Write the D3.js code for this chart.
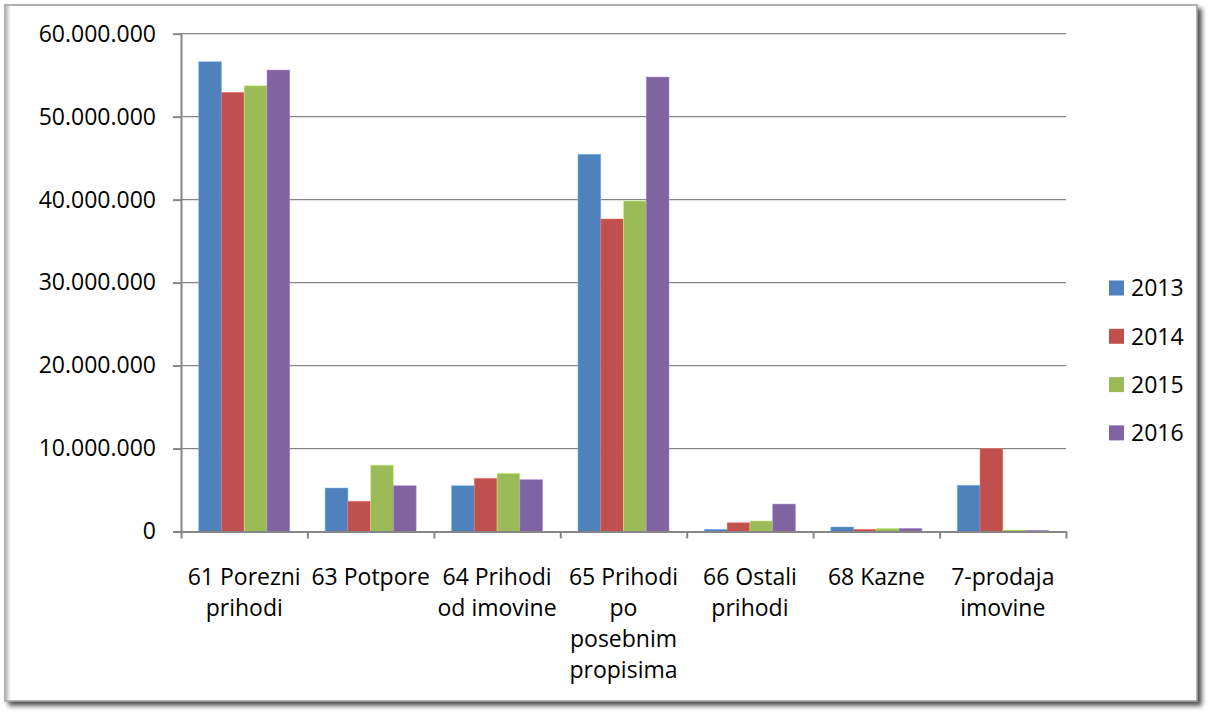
<!DOCTYPE html>
<html>
<head>
<meta charset="utf-8">
<script src="https://cdn.jsdelivr.net/npm/d3@7"></script>
<style>
  body { margin: 0; background: #fff; }
  svg text { font-family: "Open Sans", "Noto Sans", sans-serif; fill: #000; }
</style>
</head>
<body>
<div id="chart"></div>
<script>
const width = 1208;
const height = 713;

// data
const categories = ["61 Porezni prihodi", "63 Potpore", "64 Prihodi od imovine",
    "65 Prihodi po posebnim propisima", "66 Ostali prihodi", "68 Kazne", "7-prodaja imovine"];
const years = ["2013", "2014", "2015", "2016"];
const values2013 = [56620000, 5240000, 5520000, 45460000, 260000, 540000, 5570000];
const values2014 = [52930000, 3640000, 6410000, 37670000, 1060000, 260000, 9980000];
const values2015 = [53730000, 8000000, 7010000, 39840000, 1270000, 380000, 180000];
const values2016 = [55620000, 5520000, 6250000, 54780000, 3310000, 380000, 140000];
const yTicks = [0, 10000000, 20000000, 30000000, 40000000, 50000000, 60000000];
const colors = ["#4F81BD", "#C0504D", "#9BBB59", "#8064A2"];

const series = [values2013, values2014, values2015, values2016];

const plot = { left: 181, right: 1066, top: 33.7, bottom: 531.5 };
const axisColor = "#868686";

const svg = d3.select("#chart")
    .append("svg")
    .attr("width", width)
    .attr("height", height);

// frame with shadow
const defs = svg.append("defs");
const shadow = defs.append("filter").attr("id", "shadow")
    .attr("x", "-2%").attr("y", "-2%").attr("width", "105%").attr("height", "106%");
shadow.append("feGaussianBlur").attr("in", "SourceAlpha").attr("stdDeviation", 2.5);
shadow.append("feOffset").attr("dx", 4).attr("dy", 4).attr("result", "blur");
shadow.append("feComponentTransfer").append("feFuncA").attr("type", "linear").attr("slope", 0.7);
const merge = shadow.append("feMerge");
merge.append("feMergeNode");
merge.append("feMergeNode").attr("in", "SourceGraphic");

const inner = defs.append("linearGradient").attr("id", "innerLeft");
inner.append("stop").attr("offset", "0%").attr("stop-color", "#bdbdbd");
inner.append("stop").attr("offset", "100%").attr("stop-color", "#ffffff");

svg.append("rect")
    .attr("x", 5).attr("y", 5)
    .attr("width", 1192).attr("height", 696)
    .attr("fill", "#fff")
    .attr("stroke", "#9a9a9a")
    .attr("stroke-width", 1.5)
    .attr("filter", "url(#shadow)");

svg.append("rect")
    .attr("x", 6).attr("y", 6)
    .attr("width", 5).attr("height", 694)
    .attr("fill", "url(#innerLeft)");

// scales
const x0 = d3.scaleBand()
    .domain(categories)
    .range([plot.left, plot.right])
    .paddingInner(0)
    .paddingOuter(0);

const x1 = d3.scaleBand()
    .domain(years)
    .range([0, x0.bandwidth()])
    .paddingInner(0)
    .paddingOuter(0.778);

const y = d3.scaleLinear()
    .domain([0, 60000000])
    .range([plot.bottom, plot.top]);

const xEdge = d3.scaleLinear()
    .domain([0, categories.length])
    .range([plot.left, plot.right]);

const hr = d3.formatLocale({ decimal: ",", thousands: ".", grouping: [3], currency: ["", ""] });
const fmt = hr.format(",");

// gridlines
svg.append("g")
    .selectAll("line")
    .data(yTicks.filter(d => d > 0))
    .join("line")
    .attr("x1", plot.left)
    .attr("x2", plot.right)
    .attr("y1", d => y(d))
    .attr("y2", d => y(d))
    .attr("stroke", axisColor)
    .attr("stroke-width", 1.3);

// bars
const groups = svg.append("g")
    .selectAll("g")
    .data(categories)
    .join("g")
    .attr("transform", d => `translate(${x0(d)},0)`);

groups.selectAll("rect")
    .data((c, i) => years.map((yr, j) => ({ year: yr, value: series[j][i], color: colors[j] })))
    .join("rect")
    .attr("x", d => x1(d.year))
    .attr("y", d => y(d.value))
    .attr("width", x1.bandwidth())
    .attr("height", d => y(0) - y(d.value))
    .attr("fill", d => d.color)
    .attr("stroke", d => d3.color(d.color).brighter(0.9))
    .attr("stroke-opacity", 0.6)
    .attr("stroke-width", 0.8);

// y axis
const yAxis = svg.append("g")
    .attr("transform", `translate(${plot.left},0)`)
    .call(d3.axisLeft(y).tickValues(yTicks).tickFormat(fmt).tickSize(8).tickSizeOuter(0).tickPadding(17));

// x axis
const xAxis = svg.append("g")
    .attr("transform", `translate(0,${plot.bottom})`)
    .call(d3.axisBottom(xEdge).tickValues(d3.range(categories.length + 1)).tickFormat("").tickSize(7).tickSizeOuter(0));

[yAxis, xAxis].forEach(ax => {
    ax.select(".domain").attr("stroke", axisColor).attr("stroke-width", 2);
    ax.selectAll(".tick line").attr("stroke", axisColor).attr("stroke-width", 2);
});
yAxis.selectAll(".tick text")
    .attr("font-size", 23)
    .attr("fill", "#000")
    .style("font-family", '"Open Sans", sans-serif');

// category labels with word wrap
const labels = svg.append("g")
    .selectAll("text")
    .data(categories)
    .join("text")
    .attr("x", d => x0(d) + x0.bandwidth() / 2)
    .attr("y", 585)
    .attr("text-anchor", "middle")
    .attr("font-size", 23);

labels.each(function (d) {
    const text = d3.select(this);
    const words = d.split(" ");
    const maxW = x0.bandwidth() - 2;
    let line = [];
    let tspan = text.append("tspan").attr("x", text.attr("x")).attr("dy", 0);
    words.forEach(w => {
        line.push(w);
        tspan.text(line.join(" "));
        if (tspan.node().getComputedTextLength() > maxW && line.length > 1) {
            line.pop();
            tspan.text(line.join(" "));
            line = [w];
            tspan = text.append("tspan").attr("x", text.attr("x")).attr("dy", 31).text(w);
        }
    });
});

// legend
const legend = svg.append("g")
    .selectAll("g")
    .data(years)
    .join("g")
    .attr("transform", (d, i) => `translate(1109,${288 + i * 48.3})`);

legend.append("rect")
    .attr("x", 0)
    .attr("y", -7.5)
    .attr("width", 15)
    .attr("height", 15)
    .attr("fill", (d, i) => colors[i]);

legend.append("text")
    .attr("x", 22)
    .attr("y", 0)
    .attr("dy", "0.36em")
    .attr("font-size", 23)
    .text(d => d);
</script>
</body>
</html>
